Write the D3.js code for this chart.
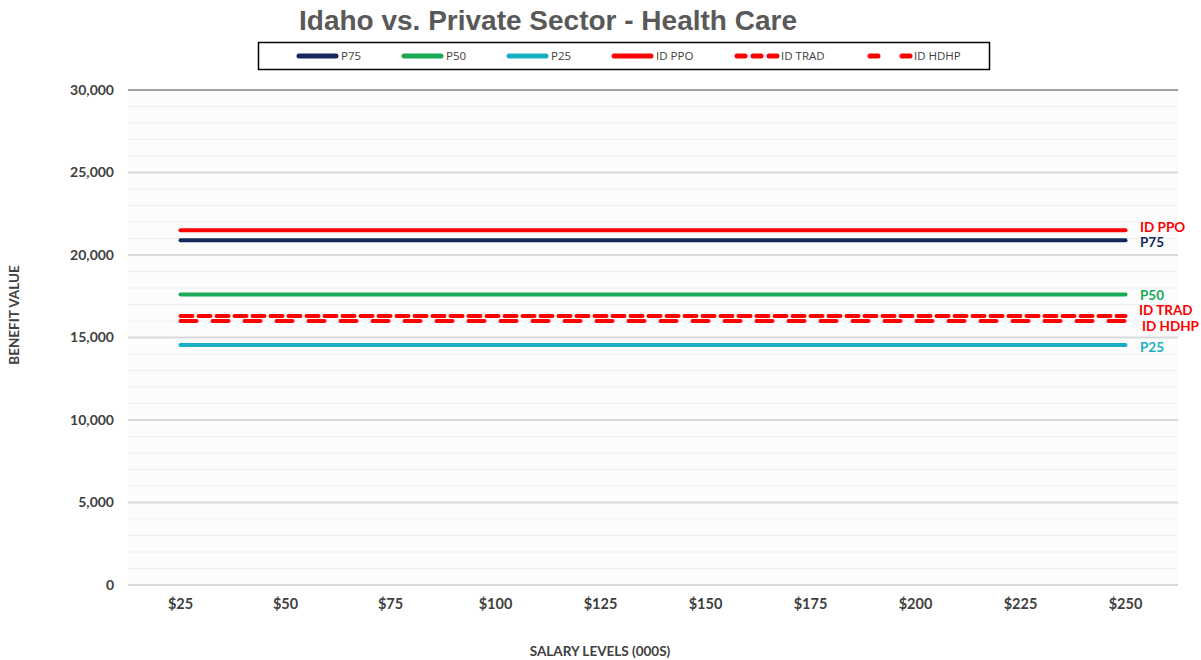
<!DOCTYPE html>
<html>
<head>
<meta charset="utf-8">
<script src="https://cdn.jsdelivr.net/npm/d3@7"></script>
<style>
  body { margin: 0; background: #fff; }
  svg text { font-family: Lato, "Open Sans", sans-serif; }
</style>
</head>
<body>
<div id="chart"></div>
<script>
const salaries = ["$25", "$50", "$75", "$100", "$125", "$150", "$175", "$200", "$225", "$250"];
const p75 = [20900, 20900, 20900, 20900, 20900, 20900, 20900, 20900, 20900, 20900];
const p50 = [17600, 17600, 17600, 17600, 17600, 17600, 17600, 17600, 17600, 17600];
const p25 = [14550, 14550, 14550, 14550, 14550, 14550, 14550, 14550, 14550, 14550];
const idPpo = [21500, 21500, 21500, 21500, 21500, 21500, 21500, 21500, 21500, 21500];
const idTrad = [16300, 16300, 16300, 16300, 16300, 16300, 16300, 16300, 16300, 16300];
const idHdhp = [16000, 16000, 16000, 16000, 16000, 16000, 16000, 16000, 16000, 16000];
const yTicks = [0, 5000, 10000, 15000, 20000, 25000, 30000];

const series = [
  { name: "P75", values: p75, color: "#14285a", dash: null, label: "P75", lx: 1140, ldy: 2 },
  { name: "P50", values: p50, color: "#1aa955", dash: null, label: "P50", lx: 1140, ldy: 1 },
  { name: "P25", values: p25, color: "#19aec4", dash: null, label: "P25", lx: 1140, ldy: 2 },
  { name: "ID PPO", values: idPpo, color: "#ff0000", dash: null, label: "ID PPO", lx: 1140, ldy: -3 },
  { name: "ID TRAD", values: idTrad, color: "#ff0000", dash: "12,6", label: "ID TRAD", lx: 1139, ldy: -6 },
  { name: "ID HDHP", values: idHdhp, color: "#ff0000", dash: "16,16", label: "ID HDHP", lx: 1142, ldy: 5 }
];

const W = 1201, H = 660;
const margin = { top: 90, right: 23, bottom: 75, left: 128 };
const width = W - margin.left - margin.right;
const height = H - margin.top - margin.bottom;

const root = d3.select("#chart").append("svg")
  .attr("width", W).attr("height", H);

root.append("text")
  .attr("x", 548).attr("y", 30)
  .attr("text-anchor", "middle")
  .style("font-family", "'Liberation Sans', Arial, sans-serif")
  .style("font-size", "28px")
  .style("font-weight", "700")
  .style("fill", "#595959")
  .text("Idaho vs. Private Sector - Health Care");

const svg = root.append("g")
  .attr("transform", `translate(${margin.left}, ${margin.top})`);

const x = d3.scaleBand().domain(salaries).range([0, width]);
const y = d3.scaleLinear().domain([0, 30000]).range([height, 0]);

svg.append("rect")
  .attr("width", width).attr("height", height)
  .attr("fill", "#fcfcfc");

// minor grid
svg.append("g")
  .selectAll("line")
  .data(d3.range(0, 30001, 1000))
  .join("line")
  .attr("x1", 0).attr("x2", width)
  .attr("y1", d => y(d)).attr("y2", d => y(d))
  .attr("stroke", d => d % 5000 === 0 ? "#d9d9d9" : "#efefef")
  .attr("stroke-width", d => d % 5000 === 0 ? 2 : 1);

svg.append("line")
  .attr("x1", 0).attr("x2", width)
  .attr("y1", y(30000)).attr("y2", y(30000))
  .attr("stroke", "#8c8c8c").attr("stroke-width", 1.5);

const yAxis = svg.append("g")
  .call(d3.axisLeft(y).tickValues(yTicks).tickFormat(d3.format(",")).tickSize(0).tickPadding(14));
yAxis.select(".domain").remove();
yAxis.selectAll("text")
  .style("font-size", "14px").style("font-weight", "700").style("fill", "#404040");

const xAxis = svg.append("g")
  .attr("transform", `translate(0, ${height})`)
  .call(d3.axisBottom(x).tickSize(0).tickPadding(14));
xAxis.select(".domain").remove();
xAxis.selectAll("text")
  .style("font-size", "14.5px").style("font-weight", "700").style("fill", "#404040");

root.append("text")
  .attr("x", 600).attr("y", 656)
  .attr("text-anchor", "middle")
  .style("font-size", "13.5px").style("font-weight", "700").style("fill", "#404040")
  .text("SALARY LEVELS (000S)");

root.append("text")
  .attr("transform", "translate(19, 315) rotate(-90)")
  .attr("text-anchor", "middle")
  .style("font-size", "13.5px").style("font-weight", "700").style("fill", "#404040")
  .text("BENEFIT VALUE");

const line = d3.line()
  .x((d, i) => x(salaries[i]) + x.bandwidth() / 2)
  .y(d => y(d));

series.forEach(s => {
  svg.append("path")
    .datum(s.values)
    .attr("d", line)
    .attr("fill", "none")
    .attr("stroke", s.color)
    .attr("stroke-width", 4)
    .attr("stroke-linecap", "round")
    .attr("stroke-dasharray", s.dash);

  svg.append("text")
    .attr("x", s.lx - margin.left)
    .attr("y", y(s.values[s.values.length - 1]) + s.ldy)
    .attr("dy", "0.35em")
    .style("font-size", "13.5px").style("font-weight", "700")
    .style("fill", s.color)
    .text(s.label);
});

// legend
const legendX = [297, 402, 507, 612, 735, 868];
const legend = root.append("g");
legend.append("rect")
  .attr("x", 258.5).attr("y", 42.5).attr("width", 731).attr("height", 27)
  .attr("fill", "#fff").attr("stroke", "#000").attr("stroke-width", 1.5);

series.forEach((s, i) => {
  const g = legend.append("g").attr("transform", `translate(${legendX[i]}, 56)`);
  if (s.name === "ID TRAD") {
    g.append("line").attr("x1", 2).attr("x2", 42).attr("y1", 0).attr("y2", 0)
      .attr("stroke", s.color).attr("stroke-width", 5).attr("stroke-linecap", "round")
      .attr("stroke-dasharray", "8,8");
  } else if (s.name === "ID HDHP") {
    g.append("line").attr("x1", 2).attr("x2", 42).attr("y1", 0).attr("y2", 0)
      .attr("stroke", s.color).attr("stroke-width", 5).attr("stroke-linecap", "round")
      .attr("stroke-dasharray", "8,24");
  } else {
    g.append("line").attr("x1", 2).attr("x2", 39).attr("y1", 0).attr("y2", 0)
      .attr("stroke", s.color).attr("stroke-width", 5).attr("stroke-linecap", "round");
  }
  g.append("text")
    .attr("x", s.dash ? 46 : 44).attr("y", 0).attr("dy", "0.35em")
    .style("font-family", "'Open Sans', sans-serif")
    .style("font-size", "11.5px").style("fill", "#404040")
    .text(s.name);
});
</script>
</body>
</html>
